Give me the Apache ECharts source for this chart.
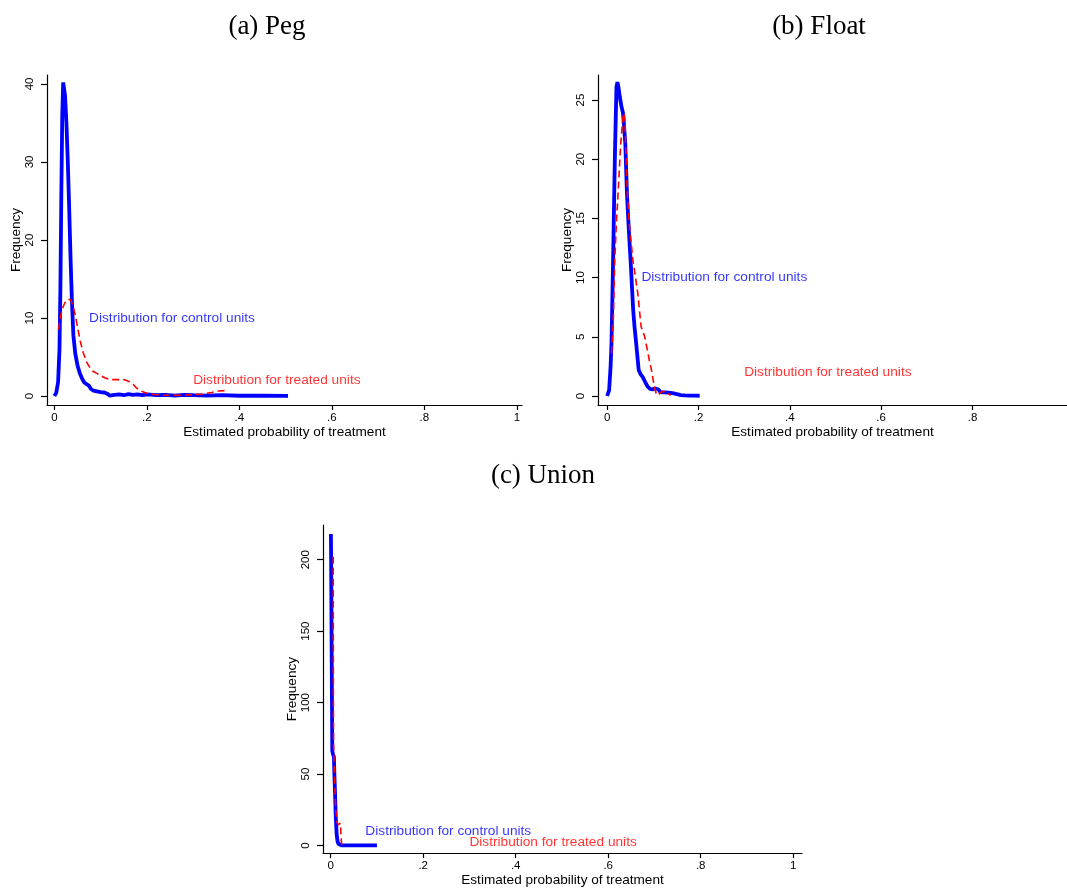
<!DOCTYPE html>
<html>
<head>
<meta charset="utf-8">
<title>Propensity score distributions</title>
<script src="https://cdn.jsdelivr.net/npm/echarts@6/dist/echarts.min.js"></script>
<style>
  html, body { margin: 0; padding: 0; background: #fff; }
  #chart { width: 1067px; height: 888px; }
</style>
</head>
<body>
<div id="chart"></div>
<script>
// Kernel density estimates of the estimated treatment probability, [x, density]
const pegControl = [[0,0],[0.004,0.4],[0.008,1.8],[0.011,6],[0.013,14],[0.015,26],[0.017,36],[0.019,40.2],[0.021,40],[0.023,38.5],[0.026,35],[0.029,30],[0.032,24],[0.035,17.5],[0.038,12],[0.041,7.8],[0.045,5.5],[0.050,3.9],[0.055,2.9],[0.060,2.2],[0.065,1.7],[0.070,1.5],[0.075,1.3],[0.079,0.9],[0.084,0.7],[0.092,0.6],[0.100,0.5],[0.108,0.45],[0.114,0.3],[0.120,0.05],[0.13,0.15],[0.14,0.2],[0.15,0.1],[0.16,0.25],[0.17,0.15],[0.18,0.2],[0.19,0.1],[0.20,0.2],[0.22,0.1],[0.24,0.15],[0.26,0.05],[0.28,0.15],[0.30,0.1],[0.33,0.05],[0.36,0.1],[0.40,0.03],[0.45,0.05],[0.50,0.02],[0.505,0.0]];
const pegTreated = [[0.009,8.5],[0.012,9.8],[0.016,11.0],[0.020,11.6],[0.025,12.2],[0.030,12.4],[0.035,12.3],[0.040,11.6],[0.045,10.4],[0.050,8.8],[0.056,7.0],[0.062,5.6],[0.070,4.3],[0.078,3.5],[0.085,3.1],[0.092,2.9],[0.100,2.6],[0.110,2.3],[0.120,2.1],[0.135,2.1],[0.150,2.1],[0.160,1.9],[0.170,1.5],[0.178,1.0],[0.188,0.6],[0.200,0.35],[0.215,0.2],[0.24,0.1],[0.27,0.1],[0.30,0.15],[0.32,0.25],[0.34,0.45],[0.355,0.65],[0.37,0.7]];

const floatControl = [[0,0],[0.002,0.1],[0.0043,0.5],[0.0075,2.5],[0.0095,4.5],[0.013,11.5],[0.0167,19.9],[0.0203,26.1],[0.0225,26.5],[0.025,26],[0.0275,25.3],[0.031,24.5],[0.0346,23.9],[0.037,22.8],[0.0397,21.3],[0.0433,17.1],[0.047,14.3],[0.0512,11.5],[0.055,8.7],[0.0569,7.3],[0.060,5.8],[0.0635,4.45],[0.069,2.2],[0.073,1.85],[0.078,1.6],[0.083,1.2],[0.0886,0.79],[0.094,0.6],[0.0995,0.55],[0.104,0.65],[0.108,0.7],[0.112,0.55],[0.1176,0.3],[0.125,0.3],[0.135,0.28],[0.146,0.22],[0.153,0.15],[0.161,0.08],[0.17,0.05],[0.18,0.03],[0.19,0.04],[0.2026,0.02]];
const floatTreated = [[0.0095,3.6],[0.013,5.9],[0.0167,11.5],[0.020,14.5],[0.0238,17.1],[0.0296,21.3],[0.0346,23.6],[0.0368,23.9],[0.039,23.3],[0.0404,21.3],[0.044,17.1],[0.049,14.3],[0.0563,11.5],[0.067,8.7],[0.0743,5.85],[0.0815,5.1],[0.0875,4.0],[0.0923,3.0],[0.096,2.4],[0.100,1.5],[0.103,0.8],[0.107,0.25],[0.111,0.05],[0.116,0.25],[0.121,0.4],[0.127,0.35],[0.132,0.25],[0.136,0.1],[0.139,0.05]];

const unionControl = [[0.0005,218],[0.001,200],[0.0015,170],[0.002,142],[0.0028,100],[0.0035,66],[0.005,64],[0.007,62],[0.008,50],[0.0093,37.6],[0.011,20],[0.013,7.4],[0.0148,3],[0.0165,1.2],[0.02,0.3],[0.024,0],[0.05,0],[0.1,0]];
const unionTreated = [[0.0055,202],[0.0057,150],[0.0059,100],[0.0062,72],[0.0075,55],[0.0093,38],[0.0108,26],[0.013,17],[0.016,14.5],[0.018,15.5],[0.021,15.5],[0.022,9],[0.023,3],[0.024,0.5]];

// Tick values
const xTicks = [0, 0.2, 0.4, 0.6, 0.8, 1];
const xTicksFloat = [0, 0.2, 0.4, 0.6, 0.8];
const yTicksPeg = [0, 10, 20, 30, 40];
const yTicksFloat = [0, 5, 10, 15, 20, 25];
const yTicksUnion = [0, 50, 100, 150, 200];

// Panel titles and text labels
const panelTitles = ['(a) Peg', '(b) Float', '(c) Union'];
const controlText = 'Distribution for control units';
const treatedText = 'Distribution for treated units';
const controlLabelAt = [0.075, 10];
const treatedLabelAt = [0.3, 2];

const BLUE = '#0000ff';
const RED = '#ff0000';
const SANS = '"Liberation Sans", Arial, sans-serif';

function xFmt(v) {
  if (v === 0) return '0';
  if (v === 1) return '1';
  return v.toFixed(1).replace(/^0/, '');
}

function xAxisFor(gi, min, max, ticks) {
  return {
    type: 'value', gridIndex: gi, min: min, max: max,
    name: 'Estimated probability of treatment',
    nameLocation: 'middle', nameGap: 19,
    nameTextStyle: { fontFamily: SANS, fontSize: 13.6, color: '#000', verticalAlign: 'top' },
    axisLine: { show: true, onZero: false, lineStyle: { color: '#000', width: 1.2 } },
    axisTick: { show: true, length: 5, customValues: ticks, lineStyle: { color: '#000', width: 1.2 } },
    axisLabel: { show: true, customValues: ticks, formatter: xFmt, margin: 7,
      fontFamily: SANS, fontSize: 11.5, color: '#000' },
    splitLine: { show: false }
  };
}

function yAxisFor(gi, min, max, ticks) {
  return {
    type: 'value', gridIndex: gi, min: min, max: max,
    name: 'Frequency',
    nameLocation: 'middle', nameGap: 22,
    nameTextStyle: { fontFamily: SANS, fontSize: 13.6, color: '#000' },
    axisLine: { show: true, onZero: false, lineStyle: { color: '#000', width: 1.2 } },
    axisTick: { show: true, length: 6, customValues: ticks, lineStyle: { color: '#000', width: 1.2 } },
    axisLabel: { show: true, customValues: ticks, rotate: 90, margin: 11,
      fontFamily: SANS, fontSize: 11.5, color: '#000' },
    splitLine: { show: false }
  };
}

function densityLine(gi, data, treated) {
  return {
    type: 'line', xAxisIndex: gi, yAxisIndex: gi, data: data,
    showSymbol: false, symbol: 'none', smooth: false, silent: true,
    lineStyle: treated
      ? { color: RED, width: 1.6, type: [7, 4] }
      : { color: BLUE, width: 3.8 },
    z: treated ? 3 : 2
  };
}

function textMark(gi, at, text, color) {
  return {
    type: 'scatter', xAxisIndex: gi, yAxisIndex: gi, data: [at],
    symbolSize: 0, silent: true,
    label: { show: true, position: 'right', distance: 0, formatter: text,
      fontFamily: SANS, fontSize: 13.7, color: color },
    z: 4
  };
}

const chart = echarts.init(document.getElementById('chart'), null, { renderer: 'canvas' });

const titleStyle = { fontFamily: '"Liberation Serif", "DejaVu Serif", serif', fontSize: 27, fill: '#000',
  textAlign: 'center', textVerticalAlign: 'middle' };

chart.setOption({
  animation: false,
  backgroundColor: '#fff',
  grid: [
    { left: 47, top: 75, width: 475, height: 330 },
    { left: 598, top: 75, width: 475, height: 330 },
    { left: 323, top: 525, width: 479, height: 330 }
  ],
  xAxis: [
    xAxisFor(0, -0.016, 1.011, xTicks),
    xAxisFor(1, -0.0201, 1.007, xTicksFloat),
    xAxisFor(2, -0.0166, 1.019, xTicks)
  ],
  yAxis: [
    yAxisFor(0, -1.154, 41.15, yTicksPeg),
    yAxisFor(1, -0.76, 27.11, yTicksFloat),
    yAxisFor(2, -5.36, 224.3, yTicksUnion)
  ],
  graphic: [
    { type: 'text', x: 267, y: 27, style: Object.assign({ text: panelTitles[0] }, titleStyle) },
    { type: 'text', x: 819, y: 27, style: Object.assign({ text: panelTitles[1] }, titleStyle) },
    { type: 'text', x: 543, y: 476, style: Object.assign({ text: panelTitles[2] }, titleStyle) }
  ],
  series: [
    densityLine(0, pegTreated, true),
    densityLine(0, pegControl, false),
    densityLine(1, floatTreated, true),
    densityLine(1, floatControl, false),
    densityLine(2, unionTreated, true),
    densityLine(2, unionControl, false),
    textMark(0, controlLabelAt, controlText, BLUE),
    textMark(0, treatedLabelAt, treatedText, RED),
    textMark(1, controlLabelAt, controlText, BLUE),
    textMark(1, treatedLabelAt, treatedText, RED),
    textMark(2, controlLabelAt, controlText, BLUE),
    textMark(2, treatedLabelAt, treatedText, RED)
  ]
});
</script>
</body>
</html>
